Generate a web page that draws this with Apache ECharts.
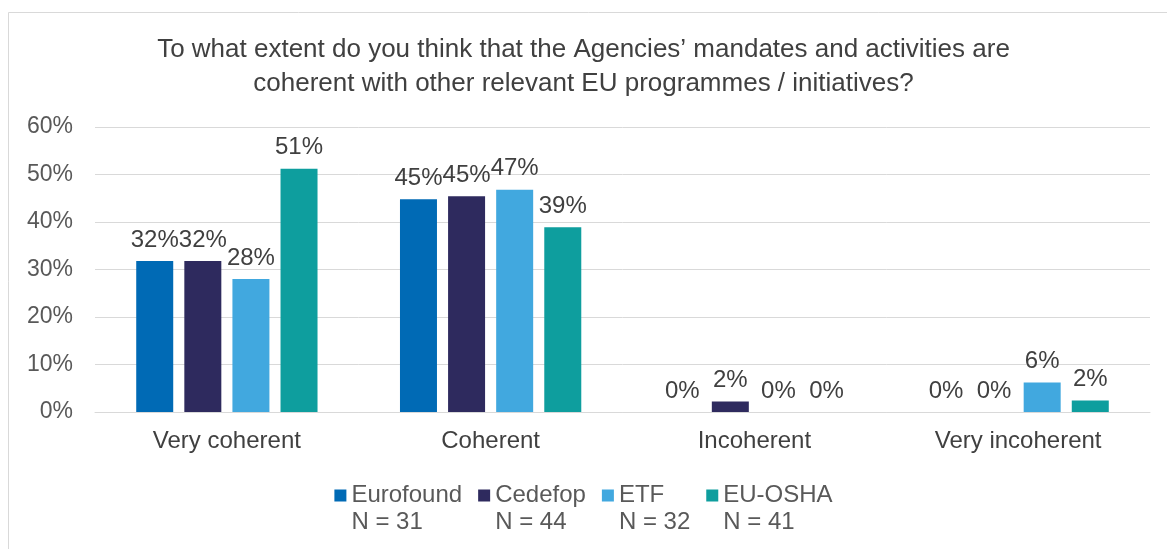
<!DOCTYPE html>
<html>
<head>
  <meta charset="UTF-8">
  <title>Agencies coherence</title>
  <style>
    html, body { margin: 0; padding: 0; background: #fff; }
    #chart { width: 1167px; height: 549px; }
  </style>
  <script src="https://cdn.jsdelivr.net/npm/echarts@6/dist/echarts.min.js"></script>
</head>
<body>
  <div id="chart"></div>
  <script>
    // categories and series values (share of respondents, %)
    var categories = ['Very coherent', 'Coherent', 'Incoherent', 'Very incoherent'];
    var eurofound = [31.8, 44.8, 0, 0];
    var cedefop   = [31.8, 45.4, 2.2, 0];
    var etf       = [28.0, 46.8, 0, 6.2];
    var euosha    = [51.2, 38.9, 0, 2.4];
    var agencies  = ['Eurofound', 'Cedefop', 'ETF', 'EU-OSHA'];
    var sampleN   = [31, 44, 32, 41];
    var colors    = ['#006AB5', '#2E2A5E', '#41A8DF', '#0E9E9E'];
    var yTicks    = [0, 10, 20, 30, 40, 50, 60];

    var font = 'Liberation Sans, Arial, sans-serif';
    var chart = echarts.init(document.getElementById('chart'));

    function makeSeries(name, data, color) {
      return {
        name: name,
        type: 'bar',
        data: data,
        barWidth: 37,
        barGap: '30%',
        itemStyle: { color: color },
        label: {
          show: true,
          position: 'top',
          distance: 9,
          fontFamily: font,
          fontSize: 24,
          color: '#404040',
          formatter: function (p) { return Math.round(p.value) + '%'; }
        }
      };
    }

    var option = {
      backgroundColor: '#fff',
      animation: false,
      title: {
        text: 'To what extent do you think that the Agencies\u2019 mandates and activities are\ncoherent with other relevant EU programmes / initiatives?',
        left: 'center',
        top: 28,
        textStyle: {
          fontFamily: font,
          fontSize: 26,
          fontWeight: 'normal',
          color: '#404040',
          lineHeight: 34
        }
      },
      graphic: [{
        type: 'rect',
        shape: { x: 8.5, y: 12.5, width: 1300, height: 700 },
        style: { fill: 'none', stroke: '#d9d9d9', lineWidth: 1 },
        silent: true
      }],
      legend: {
        bottom: 8,
        left: 'center',
        itemGap: 16,
        itemWidth: 12,
        itemHeight: 39,
        icon: 'path://M0,0h10v10h-10zM0,32.4h10v0.1h-10z',
        data: agencies,
        formatter: function (name) {
          return name + '\nN = ' + sampleN[agencies.indexOf(name)];
        },
        textStyle: {
          fontFamily: font,
          fontSize: 24,
          color: '#595959',
          lineHeight: 27
        }
      },
      grid: { left: 95, right: 17, top: 127, bottom: 137 },
      xAxis: {
        type: 'category',
        data: categories,
        axisLine: { lineStyle: { color: '#d9d9d9' } },
        axisTick: { show: false },
        axisLabel: {
          margin: 17,
          fontFamily: font,
          fontSize: 24,
          color: '#404040'
        }
      },
      yAxis: {
        type: 'value',
        min: yTicks[0],
        max: yTicks[yTicks.length - 1],
        interval: 10,
        axisLine: { show: false },
        axisTick: { show: false },
        splitLine: { lineStyle: { color: '#d9d9d9', width: 1 } },
        axisLabel: {
          margin: 22,
          fontFamily: font,
          fontSize: 23,
          color: '#595959',
          formatter: '{value}%'
        }
      },
      series: [
        makeSeries(agencies[0], eurofound, colors[0]),
        makeSeries(agencies[1], cedefop, colors[1]),
        makeSeries(agencies[2], etf, colors[2]),
        makeSeries(agencies[3], euosha, colors[3])
      ]
    };

    chart.setOption(option);
  </script>
</body>
</html>
